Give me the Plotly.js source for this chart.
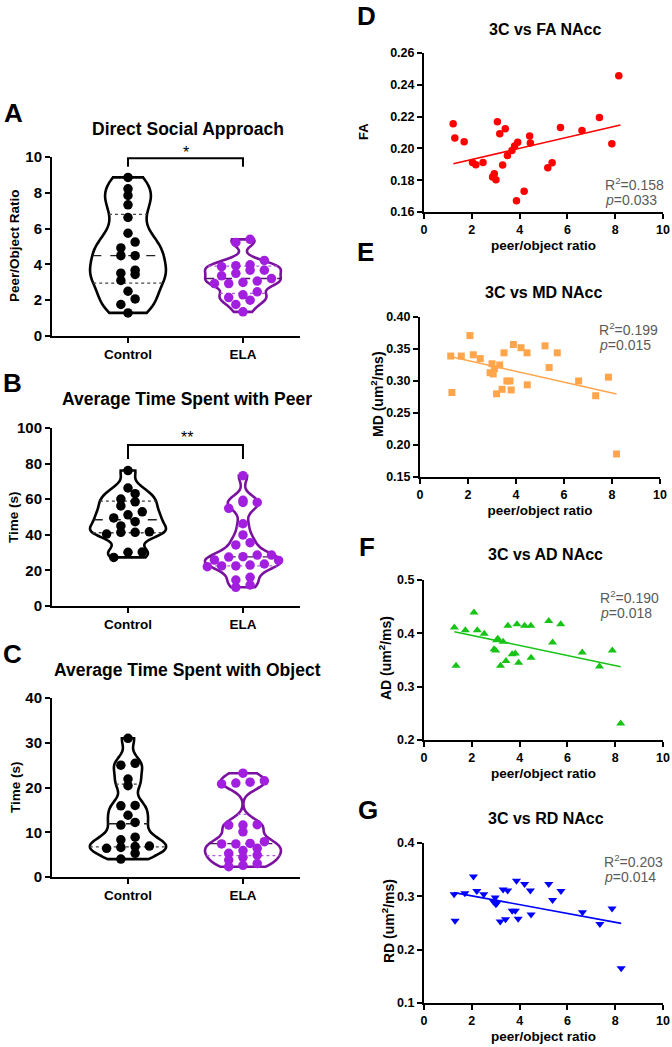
<!DOCTYPE html>
<html><head><meta charset="utf-8">
<script src="https://cdn.plot.ly/plotly-3.0.1.min.js"></script>
<style>html,body{margin:0;padding:0;background:#fff}#chart{width:672px;height:1047px}</style>
</head><body><div id="chart"></div>
<script>
// ---------- data ----------
const groups = ['Control', 'ELA'];
const ratioControl = [8.86, 8.22, 7.85, 7.33, 6.62, 5.74, 5.25, 4.92, 4.49, 4.49, 3.68, 3.51, 3.44, 3.10, 2.50, 2.07, 1.76, 1.29];
const ratioELA = [5.40, 5.23, 4.22, 3.98, 3.93, 3.87, 3.68, 3.68, 3.50, 3.36, 3.21, 3.07, 2.99, 2.93, 2.93, 2.47, 2.30, 2.15, 2.00, 1.76, 1.35];
const peerControl = [76.1, 66.3, 63.1, 60.1, 58.5, 56.2, 52.9, 51.2, 49.5, 47.4, 45.0, 41.7, 41.4, 41.4, 40.4, 30.3, 30.2, 27.3];
const peerELA = [73.2, 59.4, 58.2, 58.2, 54.9, 46.2, 39.9, 35.6, 34.3, 28.6, 28.6, 27.7, 27.5, 25.8, 25.6, 23.6, 23.0, 22.5, 22.5, 22.1, 16.1, 14.6, 11.8, 10.5];
const objectControl = [31.0, 25.4, 25.0, 21.9, 20.4, 16.0, 15.9, 13.8, 12.2, 11.6, 8.9, 8.3, 6.9, 6.8, 6.6, 6.4, 5.3, 4.0];
const objectELA = [23.2, 21.5, 21.2, 21.0, 20.8, 11.7, 11.6, 11.6, 10.1, 7.9, 7.5, 7.4, 7.4, 6.4, 5.9, 5.3, 4.9, 4.4, 3.8, 3.0, 2.6, 2.3];

const faX = [1.22,1.29,1.68,2.03,2.17,2.47,2.87,2.94,3.01,3.07,3.17,3.29,3.40,3.49,3.68,3.79,3.87,3.92,4.19,4.42,4.45,5.18,5.36,5.71,6.61,7.34,7.86,8.15];
const faY = [0.2155,0.2065,0.2042,0.1912,0.1897,0.1912,0.1820,0.1841,0.1803,0.2168,0.2092,0.1896,0.2124,0.1956,0.1987,0.2015,0.1671,0.2038,0.1730,0.2078,0.2034,0.1879,0.1910,0.2132,0.2113,0.2195,0.2029,0.2457];
const mdX = [1.28,1.33,1.72,2.08,2.22,2.51,2.92,3.00,3.05,3.10,3.19,3.32,3.42,3.50,3.62,3.75,3.80,3.89,4.21,4.46,4.47,5.21,5.38,5.72,6.61,7.32,7.85,8.19];
const mdY = [0.339,0.282,0.339,0.371,0.341,0.335,0.313,0.327,0.311,0.319,0.280,0.325,0.287,0.344,0.300,0.300,0.286,0.357,0.352,0.344,0.294,0.355,0.321,0.344,0.300,0.277,0.306,0.186];
const adX = [1.27,1.34,1.73,2.09,2.23,2.52,2.93,3.00,3.04,3.09,3.20,3.31,3.43,3.51,3.69,3.82,3.89,3.96,4.21,4.47,4.48,5.22,5.38,5.72,6.62,7.34,7.88,8.23];
const adY = [0.411,0.339,0.406,0.439,0.406,0.399,0.370,0.368,0.387,0.390,0.339,0.384,0.348,0.414,0.361,0.362,0.417,0.345,0.414,0.414,0.354,0.423,0.383,0.417,0.364,0.338,0.368,0.231];
const rdX = [1.26,1.30,1.71,2.07,2.21,2.50,2.91,2.98,3.01,3.06,3.19,3.31,3.41,3.50,3.69,3.82,3.87,3.94,4.21,4.45,4.48,5.22,5.38,5.73,6.63,7.36,7.87,8.25];
const rdY = [0.304,0.254,0.306,0.337,0.310,0.304,0.290,0.298,0.285,0.288,0.253,0.313,0.257,0.311,0.273,0.273,0.329,0.258,0.323,0.311,0.266,0.323,0.293,0.310,0.270,0.248,0.277,0.165];

// regression lines (endpoints)
const fitFAx = [1.23, 8.22], fitFAy = [0.1904, 0.2147];
const fitMDx = [1.25, 8.19], fitMDy = [0.3384, 0.2797];
const fitADx = [1.27, 8.23], fitADy = [0.403, 0.3375];
const fitRDx = [1.26, 8.25], fitRDy = [0.307, 0.2493];

const r2Values = ['0.158', '0.199', '0.190', '0.203'];
const pValues = ['0.033', '0.015', '0.018', '0.014'];
const sigLabels = ['*', '**'];

// ---------- helpers ----------
const W = 1047, Wd = 672;
const FONT = 'Liberation Sans, Arial, sans-serif';
const fy = p => 1 - p / W;
const fx = p => p / Wd;

function makeKDE(vals, bw) {
  const n = vals.length;
  return x => { let s = 0; for (const v of vals) { const u = (x - v) / bw; s += Math.exp(-0.5 * u * u) / Math.sqrt(2 * Math.PI); } return s / (n * bw); };
}
function maxKDE(vals, bw) {
  const kde = makeKDE(vals, bw);
  const lo = Math.min(...vals), hi = Math.max(...vals);
  const n = Math.ceil((hi - lo) / (bw / 3)); const step = (hi - lo) / n;
  let m = 0; for (let t = lo; t < hi + step / 2; t += step) m = Math.max(m, kde(t));
  return m;
}
function quantile(vals, p) {
  const s = [...vals].sort((a, b) => a - b); const n = s.length;
  const pos = p * (n + 1);
  if (pos <= 1) return s[0]; if (pos >= n) return s[n - 1];
  const lo = Math.floor(pos); return s[lo - 1] + (pos - lo) * (s[lo] - s[lo - 1]);
}
function swarm(vals, binU, stepU) {
  const idx = vals.map((v, i) => i).sort((a, b) => vals[a] - vals[b]);
  const off = new Array(vals.length).fill(0);
  let i = 0;
  while (i < idx.length) {
    const start = vals[idx[i]]; let j = i;
    while (j < idx.length && vals[idx[j]] - start < binU) j++;
    const k = j - i;
    for (let m = 0; m < k; m++) off[idx[i + m]] = (m - (k - 1) / 2) * stepU;
    i = j;
  }
  return off;
}

const traces = [];
const VW = 0.66; // violin width (category units)
const STEP = 0.124;

function violin(ax, pos, vals, bw, lineColor, dotColor, medColor, qColor, binU) {
  const xa = 'x' + (ax === 1 ? '' : ax), ya = 'y' + (ax === 1 ? '' : ax);
  traces.push({type: 'violin', x0: pos, y: vals, xaxis: xa, yaxis: ya, width: VW, spanmode: 'hard', bandwidth: bw,
    scalemode: 'width', line: {color: lineColor, width: 2.6}, fillcolor: 'rgba(255,255,255,0)', points: false,
    box: {visible: false}, meanline: {visible: false}, hoverinfo: 'skip', name: groups[pos], showlegend: false});
  const kde = makeKDE(vals, bw), mk = maxKDE(vals, bw);
  [[0.25, 'dot', qColor, 1.3], [0.5, 'dash', medColor, 1.4], [0.75, 'dot', qColor, 1.3]].forEach(([p, dash, c, w]) => {
    const q = quantile(vals, p); const hw = VW / 2 * kde(q) / mk;
    traces.push({type: 'scatter', mode: 'lines', x: [pos - hw, pos + hw], y: [q, q], xaxis: xa, yaxis: ya,
      line: {color: c, width: w, dash: dash}, hoverinfo: 'skip', showlegend: false});
  });
  const off = swarm(vals, binU, STEP);
  traces.push({type: 'scatter', mode: 'markers', x: off.map(o => pos + o), y: vals, xaxis: xa, yaxis: ya,
    marker: {size: 9.5, color: dotColor}, hoverinfo: 'skip', showlegend: false, cliponaxis: false});
}

const BLK = '#000000', PD = '#A31FDF', PL = '#7A129F', PQ = '#B45CE6', PM = '#4D1863';
violin(1, 0, ratioControl, 0.72, BLK, BLK, '#222', '#444', 0.36);
violin(1, 1, ratioELA, 0.3, PL, PD, PM, PQ, 0.36);
violin(2, 0, peerControl, 4.0, BLK, BLK, '#222', '#444', 3.6);
violin(2, 1, peerELA, 3.8, PL, PD, PM, PQ, 3.6);
violin(3, 0, objectControl, 1.9, BLK, BLK, '#222', '#444', 1.45);
violin(3, 1, objectELA, 1.6, PL, PD, PM, PQ, 1.45);

// significance brackets
traces.push({type: 'scatter', mode: 'lines', x: [0, 0, 1, 1], y: [9.45, 9.93, 9.93, 9.45], xaxis: 'x', yaxis: 'y',
  line: {color: BLK, width: 2}, hoverinfo: 'skip', showlegend: false});
traces.push({type: 'scatter', mode: 'lines', x: [0, 0, 1, 1], y: [82.6, 90.4, 90.4, 82.6], xaxis: 'x2', yaxis: 'y2',
  line: {color: BLK, width: 2}, hoverinfo: 'skip', showlegend: false});

// scatter panels
const sc = [
  [4, faX, faY, fitFAx, fitFAy, '#FF0000', 'circle', 7.5],
  [5, mdX, mdY, fitMDx, fitMDy, '#FFA54C', 'square', 7],
  [6, adX, adY, fitADx, fitADy, '#17C317', 'triangle-up', 8],
  [7, rdX, rdY, fitRDx, fitRDy, '#0000FF', 'triangle-down', 8]
];
sc.forEach(([ax, X, Y, LX, LY, col, sym, sz]) => {
  traces.push({type: 'scatter', mode: 'markers', x: X, y: Y, xaxis: 'x' + ax, yaxis: 'y' + ax,
    marker: {color: col, symbol: sym, size: sz}, hoverinfo: 'skip', showlegend: false, cliponaxis: false});
  traces.push({type: 'scatter', mode: 'lines', x: LX, y: LY, xaxis: 'x' + ax, yaxis: 'y' + ax,
    line: {color: col, width: 1.6}, hoverinfo: 'skip', showlegend: false});
});

// ---------- layout ----------
const tickFontL = {family: FONT, size: 15, color: '#000', weight: 'bold'};
const tickFontR = {family: FONT, size: 12.5, color: '#000', weight: 'bold'};
function axBase(extra) {
  return Object.assign({showline: true, linecolor: '#000', linewidth: 2, ticks: 'outside', ticklen: 5, tickwidth: 2,
    tickcolor: '#000', showgrid: false, zeroline: false, fixedrange: true, automargin: false}, extra);
}
const catX = (dom, anchor) => axBase({domain: dom, anchor: anchor, type: 'linear', range: [-0.661, 1.496],
  tickvals: [0, 1], ticktext: groups, tickfont: {family: FONT, size: 13.5, color: '#000', weight: 'bold'}});
const numX = (dom, anchor) => axBase({domain: dom, anchor: anchor, range: [0, 10], dtick: 2, tick0: 0, tickfont: tickFontR,
  title: {text: '<b>peer/object ratio</b>', font: {family: FONT, size: 13.5, color: '#000'}, standoff: 5}});

const layout = {
  width: 672, height: 1047, margin: {l: 0, r: 0, t: 0, b: 0}, paper_bgcolor: '#fff', plot_bgcolor: '#fff',
  showlegend: false, font: {family: FONT, color: '#000', size: 13},
  xaxis: catX([fx(52), fx(300)], 'y'),
  yaxis: axBase({domain: [fy(336), fy(157)], anchor: 'x', range: [0, 10], dtick: 2, tickfont: tickFontL}),
  xaxis2: catX([fx(52), fx(300)], 'y2'),
  yaxis2: axBase({domain: [fy(606), fy(428)], anchor: 'x2', range: [0, 100], dtick: 20, tickfont: tickFontL}),
  xaxis3: catX([fx(52), fx(300)], 'y3'),
  yaxis3: axBase({domain: [fy(877), fy(698)], anchor: 'x3', range: [0, 40], dtick: 10, tickfont: tickFontL}),
  xaxis4: numX([fx(424), fx(663)], 'y4'),
  yaxis4: axBase({domain: [fy(212), fy(53)], anchor: 'x4', range: [0.16, 0.26], dtick: 0.02, tick0: 0.16, tickformat: '.2f', tickfont: tickFontR}),
  xaxis5: numX([fx(420), fx(660)], 'y5'),
  yaxis5: axBase({domain: [fy(477), fy(317)], anchor: 'x5', range: [0.15, 0.40], dtick: 0.05, tick0: 0.15, tickformat: '.2f', tickfont: tickFontR}),
  xaxis6: numX([fx(424), fx(663)], 'y6'),
  yaxis6: axBase({domain: [fy(740), fy(580)], anchor: 'x6', range: [0.2, 0.5], dtick: 0.1, tick0: 0.2, tickformat: '.1f', tickfont: tickFontR}),
  xaxis7: numX([fx(424), fx(663)], 'y7'),
  yaxis7: axBase({domain: [fy(1003), fy(843)], anchor: 'x7', range: [0.1, 0.4], dtick: 0.1, tick0: 0.1, tickformat: '.1f', tickfont: tickFontR}),
  annotations: []
};

const ann = layout.annotations;
function txt(x, y, text, size, opts) {
  ann.push(Object.assign({xref: 'paper', yref: 'paper', x: fx(x), y: fy(y), text: text, showarrow: false,
    xanchor: 'center', yanchor: 'middle', font: {family: FONT, size: size, color: '#000'}}, opts || {}));
}
// panel letters
[['A', 13, 113], ['B', 12, 383], ['C', 12, 654], ['D', 367, 16], ['E', 365, 252], ['F', 367, 547], ['G', 368, 810]]
  .forEach(([t, x, y]) => txt(x, y, '<b>' + t + '</b>', 26));
// panel titles
txt(188, 129, '<b>Direct Social Approach</b>', 17.5);
txt(187, 399, '<b>Average Time Spent with Peer</b>', 17.5);
txt(187, 670, '<b>Average Time Spent with Object</b>', 17.5);
txt(545, 29, '<b>3C vs FA NAcc</b>', 16);
txt(543, 293, '<b>3C vs MD NAcc</b>', 16);
txt(545, 554, '<b>3C vs AD NAcc</b>', 16);
txt(546, 818, '<b>3C vs RD NAcc</b>', 16);
// y-axis titles
[['<b>Peer/Object Ratio</b>', 15, 246, 13.5], ['<b>Time (s)</b>', 13, 517, 13.5], ['<b>Time (s)</b>', 15, 787, 13.5],
 ['<b>FA</b>', 364, 132, 13], ['<b>MD (um<sup>2</sup>/ms)</b>', 377, 394, 14],
 ['<b>AD (um<sup>2</sup>/ms)</b>', 385, 658, 14], ['<b>RD (um<sup>2</sup>/ms)</b>', 388, 921, 14]]
  .forEach(([t, x, y, s]) => txt(x, y, t, s, {textangle: -90}));
// significance stars
txt(186, 152, sigLabels[0], 16);
txt(187, 437, sigLabels[1], 16);
// stats
[[603, 184], [597, 329], [598, 597], [602, 861]].forEach(([x, y], i) => {
  txt(x, y, 'R<sup>2</sup>=' + r2Values[i], 14, {xanchor: 'left', font: {family: FONT, size: 14, color: '#5a5a5a'}});
  txt(x, y + 16, '<i>p</i>=' + pValues[i], 14, {xanchor: 'left', font: {family: FONT, size: 14, color: '#5a5a5a'}});
});

Plotly.newPlot('chart', traces, layout, {staticPlot: true, displayModeBar: false});
</script></body></html>
